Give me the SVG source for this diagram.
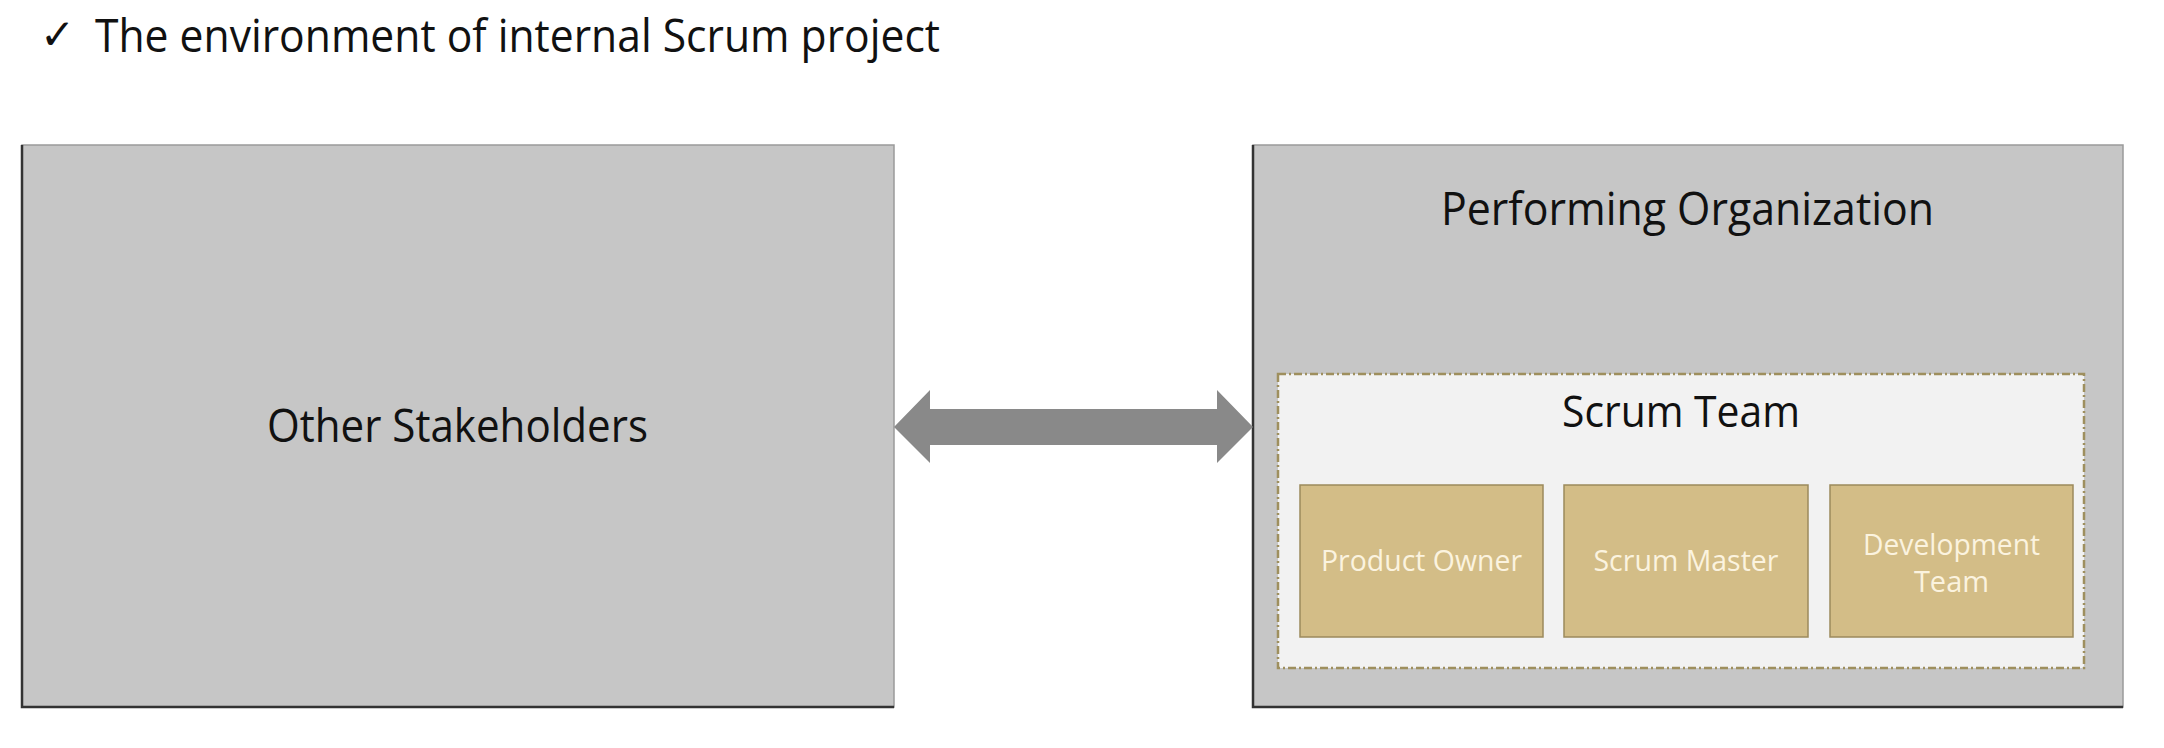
<svg xmlns="http://www.w3.org/2000/svg" width="2164" height="748" viewBox="0 0 2164 748">
<style>
.t{font-family:"Open Sans","Noto Sans","Liberation Sans",sans-serif;fill:#111}
.big{font-size:45px}
.w{font-family:"Open Sans","Noto Sans","Liberation Sans",sans-serif;font-size:29px;fill:#fbf3df}
.outer{fill:#c6c6c6;stroke:#9a9a9a;stroke-width:1.5}
.shade{fill:none;stroke:#333;stroke-width:2.5}
.role{fill:#d3bd87;stroke:#9c8a5c;stroke-width:1.5}
</style>
<rect width="2164" height="748" fill="#fff"/>
<g id="title">
<text x="40" y="49" style="font-family:'DejaVu Sans',sans-serif;font-size:42px;fill:#111">✓</text>
<text class="t big" x="95" y="52" textLength="845" lengthAdjust="spacingAndGlyphs">The environment of internal Scrum project</text>
</g>
<g id="other-stakeholders">
<rect class="outer" x="22" y="145" width="872" height="562"/>
<polyline class="shade" points="22,145 22,707 894,707"/>
<text class="t big" x="267" y="442" textLength="381" lengthAdjust="spacingAndGlyphs">Other Stakeholders</text>
</g>
<g id="performing-organization">
<rect class="outer" x="1253" y="145" width="870" height="562"/>
<polyline class="shade" points="1253,145 1253,707 2123,707"/>
<text class="t big" x="1441" y="225" textLength="493" lengthAdjust="spacingAndGlyphs">Performing Organization</text>
</g>
<g id="scrum-team">
<rect x="1278" y="374" width="806" height="294" fill="#f2f2f2" stroke="#9e8f5e" stroke-width="2.5" stroke-dasharray="8 3 2 3"/>
<text class="t" x="1562" y="427" style="font-size:43px" textLength="238" lengthAdjust="spacingAndGlyphs">Scrum Team</text>
</g>
<g id="product-owner">
<rect class="role" x="1300" y="485" width="243" height="152"/>
<text class="w" x="1421.5" y="571" text-anchor="middle" textLength="201" lengthAdjust="spacingAndGlyphs">Product Owner</text>
</g>
<g id="scrum-master">
<rect class="role" x="1564" y="485" width="244" height="152"/>
<text class="w" x="1686" y="571" text-anchor="middle" textLength="185" lengthAdjust="spacingAndGlyphs">Scrum Master</text>
</g>
<g id="development-team">
<rect class="role" x="1830" y="485" width="243" height="152"/>
<text class="w" x="1951.5" y="555" text-anchor="middle" textLength="177" lengthAdjust="spacingAndGlyphs">Development</text>
<text class="w" x="1951.5" y="592" text-anchor="middle">Team</text>
</g>
<g id="connectors">
<polygon points="894,427 930,390 930,409 1217,409 1217,390 1253,427 1217,463 1217,445 930,445 930,463" fill="#898989"/>
</g>
</svg>
